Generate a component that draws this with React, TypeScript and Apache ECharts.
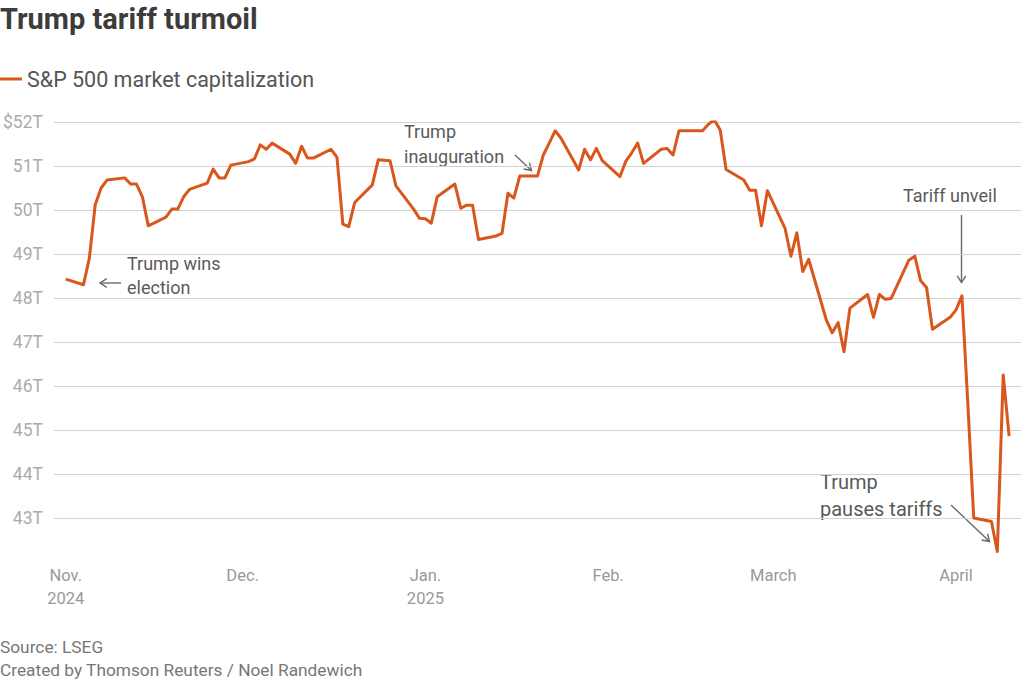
import React, { useEffect, useRef } from "react";
import * as echarts from "echarts";

// Trading days (year, month index, day) and S&P 500 market cap in $ trillions
const dates: [number, number, number][] = [
  [2024, 10, 1], [2024, 10, 4], [2024, 10, 5], [2024, 10, 6], [2024, 10, 7], [2024, 10, 8],
  [2024, 10, 11], [2024, 10, 12], [2024, 10, 13], [2024, 10, 14], [2024, 10, 15],
  [2024, 10, 18], [2024, 10, 19], [2024, 10, 20], [2024, 10, 21], [2024, 10, 22],
  [2024, 10, 25], [2024, 10, 26], [2024, 10, 27], [2024, 10, 28], [2024, 10, 29],
  [2024, 11, 2], [2024, 11, 3], [2024, 11, 4], [2024, 11, 5], [2024, 11, 6],
  [2024, 11, 9], [2024, 11, 10], [2024, 11, 11], [2024, 11, 12], [2024, 11, 13],
  [2024, 11, 16], [2024, 11, 17], [2024, 11, 18], [2024, 11, 19], [2024, 11, 20],
  [2024, 11, 23], [2024, 11, 24], [2024, 11, 25], [2024, 11, 26], [2024, 11, 27],
  [2024, 11, 30], [2024, 11, 31], [2025, 0, 1], [2025, 0, 2], [2025, 0, 3],
  [2025, 0, 6], [2025, 0, 7], [2025, 0, 8], [2025, 0, 9], [2025, 0, 10],
  [2025, 0, 13], [2025, 0, 14], [2025, 0, 15], [2025, 0, 16], [2025, 0, 17],
  [2025, 0, 20], [2025, 0, 21], [2025, 0, 22], [2025, 0, 23], [2025, 0, 24],
  [2025, 0, 27], [2025, 0, 28], [2025, 0, 29], [2025, 0, 30], [2025, 0, 31],
  [2025, 1, 3], [2025, 1, 4], [2025, 1, 5], [2025, 1, 6], [2025, 1, 7],
  [2025, 1, 10], [2025, 1, 11], [2025, 1, 12], [2025, 1, 13], [2025, 1, 14],
  [2025, 1, 17], [2025, 1, 18], [2025, 1, 19], [2025, 1, 20], [2025, 1, 21],
  [2025, 1, 24], [2025, 1, 25], [2025, 1, 26], [2025, 1, 27], [2025, 1, 28],
  [2025, 2, 3], [2025, 2, 4], [2025, 2, 5], [2025, 2, 6], [2025, 2, 7],
  [2025, 2, 10], [2025, 2, 11], [2025, 2, 12], [2025, 2, 13], [2025, 2, 14],
  [2025, 2, 17], [2025, 2, 18], [2025, 2, 19], [2025, 2, 20], [2025, 2, 21],
  [2025, 2, 24], [2025, 2, 25], [2025, 2, 26], [2025, 2, 27], [2025, 2, 28],
  [2025, 2, 31], [2025, 3, 1], [2025, 3, 2], [2025, 3, 3], [2025, 3, 4],
  [2025, 3, 7], [2025, 3, 8], [2025, 3, 9], [2025, 3, 10],
];

const marketCap: number[] = [
  48.43, 48.3, 48.9, 50.12, 50.5, 50.68,
  50.73, 50.59, 50.59, 50.3, 49.64,
  49.84, 50.02, 50.02, 50.3, 50.47,
  50.61, 50.93, 50.73, 50.73, 51.02,
  51.1, 51.16, 51.48, 51.38, 51.52,
  51.27, 51.06, 51.45, 51.18, 51.18,
  51.38, 51.2, 49.68, 49.62, 50.17,
  50.57, 51.14, 51.13, 51.12, 50.55,
  50.02, 49.81, 49.8, 49.7, 50.3,
  50.59, 50.04, 50.11, 50.11, 49.33,
  49.41, 49.47, 50.38, 50.27, 50.77,
  50.77, 51.25, 51.52, 51.8, 51.63,
  50.91, 51.38, 51.14, 51.4, 51.12,
  50.76, 51.11, 51.3, 51.52, 51.06,
  51.38, 51.4, 51.25, 51.8, 51.8,
  51.8, 51.95, 52.05, 51.82, 50.92,
  50.68, 50.45, 50.45, 49.64, 50.44,
  49.58, 48.95, 49.48, 48.6, 48.88,
  47.5, 47.21, 47.44, 46.78, 47.77,
  48.08, 47.56, 48.08, 47.97, 47.99,
  48.86, 48.95, 48.39, 48.24, 47.29,
  47.56, 47.73, 48.05, 45.6, 43.0,
  42.92, 42.24, 46.25, 44.86,
];

// Month tick labels keyed by month index
const monthLabels: Record<number, string> = {
  10: "Nov.\n2024",
  11: "Dec.",
  0: "Jan.\n2025",
  1: "Feb.",
  2: "March",
  3: "April",
};

const yTicks = { min: 42, max: 52, interval: 1 };

const seriesName = "S&P 500 market capitalization";
const titleText = "Trump tariff turmoil";
const sourceText = "Source: LSEG\nCreated by Thomson Reuters / Noel Randewich";

const annotations = [
  { text: "Trump wins\nelection", x: 127, y: 251, size: 18, lh: 24 },
  { text: "Trump\ninauguration", x: 404, y: 119, size: 18, lh: 25 },
  { text: "Tariff unveil", x: 903, y: 183, size: 18, lh: 24 },
  { text: "Trump\npauses tariffs", x: 820, y: 468, size: 20, lh: 27 },
];

const arrows: [number, number, number, number][] = [
  [121, 283, 100, 283],
  [515, 155, 531.5, 170.5],
  [961.5, 215, 961.5, 282.5],
  [951, 505, 989.5, 541.5],
];

const FONT = "Roboto, 'Noto Sans', sans-serif";
const LINE_COLOR = "#d9571c";
const ARROW_COLOR = "#6a6a6a";

function arrowGraphics(a: [number, number, number, number]) {
  const [x1, y1, x2, y2] = a;
  const ang = Math.atan2(y2 - y1, x2 - x1);
  const L = 8;
  const spread = Math.PI / 5.5;
  const p1 = [x2 - L * Math.cos(ang - spread), y2 - L * Math.sin(ang - spread)];
  const p2 = [x2 - L * Math.cos(ang + spread), y2 - L * Math.sin(ang + spread)];
  return [
    {
      type: "line",
      shape: { x1, y1, x2, y2 },
      style: { stroke: ARROW_COLOR, lineWidth: 1.4 },
      silent: true,
    },
    {
      type: "polyline",
      shape: { points: [p1, [x2, y2], p2] },
      style: { stroke: ARROW_COLOR, lineWidth: 1.4, fill: "none" },
      silent: true,
    },
  ];
}

export default function App() {
  const ref = useRef<HTMLDivElement>(null);

  useEffect(() => {
    if (!ref.current) return;
    const chart = echarts.init(ref.current, undefined, { renderer: "svg" });

    const data = dates.map((d, i) => [new Date(d[0], d[1], d[2]).getTime(), marketCap[i]]);
    const xMin = new Date(2024, 9, 30).getTime();
    const xMax = new Date(2025, 3, 12).getTime();

    const graphics: any[] = [];
    annotations.forEach((a) => {
      graphics.push({
        type: "text",
        x: a.x,
        y: a.y,
        silent: true,
        style: {
          text: a.text,
          fill: "#5a5a5a",
          font: `${a.size}px ${FONT}`,
          lineHeight: a.lh,
          verticalAlign: "top",
          align: "left",
        },
      });
    });
    arrows.forEach((a) => graphics.push(...arrowGraphics(a)));
    graphics.push({
      type: "text",
      x: 0,
      y: 635,
      silent: true,
      style: {
        text: sourceText,
        fill: "#777777",
        font: `17.3px ${FONT}`,
        lineHeight: 23,
        verticalAlign: "top",
      },
    });

    chart.setOption({
      animation: false,
      backgroundColor: "#ffffff",
      title: {
        text: titleText,
        left: 0,
        top: 4,
        padding: 0,
        textStyle: { fontFamily: FONT, fontSize: 29, fontWeight: "bold", color: "#3c3c3c" },
      },
      legend: {
        left: 0,
        top: 67,
        padding: 0,
        icon: "rect",
        itemWidth: 22,
        itemHeight: 3,
        textStyle: { fontFamily: FONT, fontSize: 21.5, color: "#555555", lineHeight: 24 },
        data: [seriesName],
      },
      grid: { left: 53.2, right: 3.1, top: 122, bottom: 119, containLabel: false },
      xAxis: {
        type: "time",
        min: xMin,
        max: xMax,
        axisLine: { show: false },
        axisTick: { show: false },
        splitLine: { show: false },
        axisLabel: {
          margin: 2,
          showMinLabel: false,
          showMaxLabel: false,
          hideOverlap: false,
          color: "#999999",
          fontFamily: FONT,
          fontSize: 16.5,
          lineHeight: 23,
          formatter: (val: number) => {
            const d = new Date(val);
            if (d.getDate() !== 1) return "";
            return monthLabels[d.getMonth()] ?? "";
          },
        },
      },
      yAxis: {
        type: "value",
        min: yTicks.min,
        max: yTicks.max,
        interval: yTicks.interval,
        axisLine: { show: false },
        axisTick: { show: false },
        splitLine: { show: true, showMinLine: false, lineStyle: { color: "#d2d2d2", width: 1 } },
        axisLabel: {
          margin: 11,
          showMinLabel: false,
          color: "#ababab",
          fontFamily: FONT,
          fontSize: 17.5,
          formatter: (v: number) => (v === yTicks.max ? `$${v}T` : `${v}T`),
        },
      },
      series: [
        {
          name: seriesName,
          type: "line",
          data,
          showSymbol: false,
          symbol: "none",
          lineStyle: { color: LINE_COLOR, width: 3, join: "round" },
          itemStyle: { color: LINE_COLOR },
          silent: true,
        },
      ],
      graphic: graphics,
    });

    return () => chart.dispose();
  }, []);

  return (
    <div
      ref={ref}
      style={{ position: "absolute", left: 0, top: 0, width: 1024, height: 681, background: "#fff" }}
    />
  );
}
